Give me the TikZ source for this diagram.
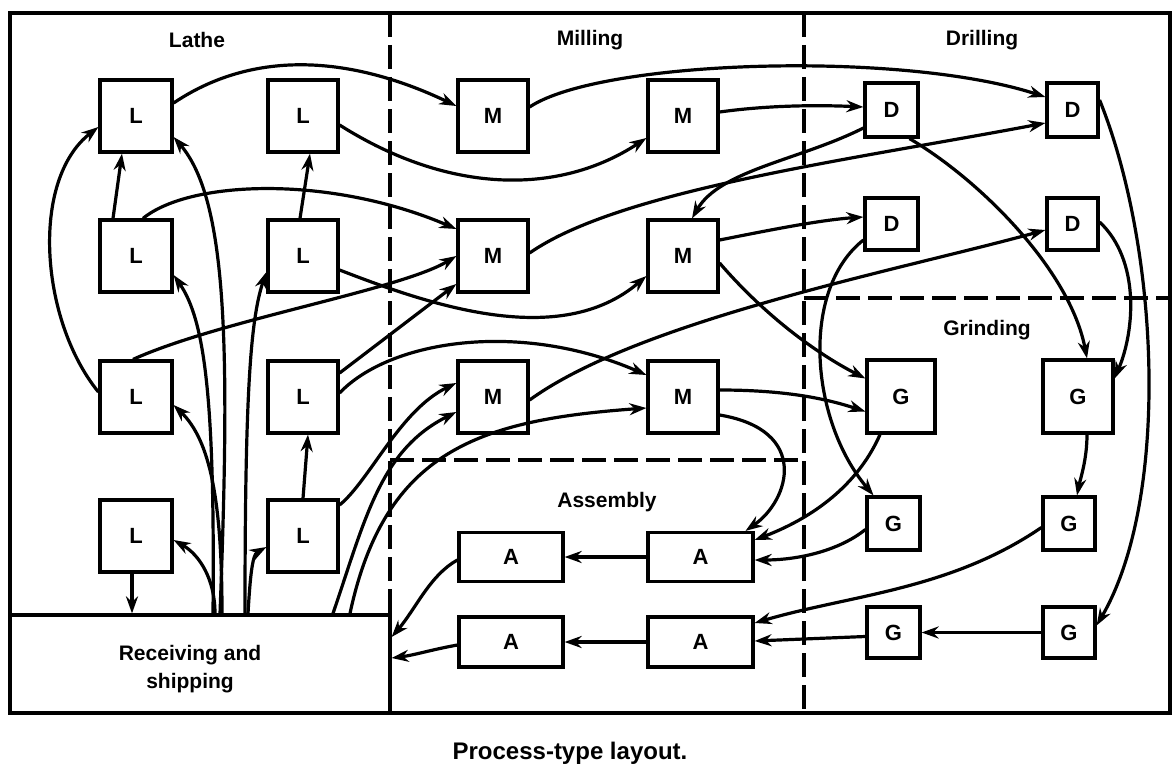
\documentclass[tikz,border=0pt]{standalone}
\usepackage{fontspec}
\setmainfont{Liberation Sans}
\usetikzlibrary{arrows.meta}
\begin{document}
\begin{tikzpicture}[x=1pt,y=-1pt,
  box/.style={draw,line width=3.2pt,inner sep=0pt,fill=white,font=\fontsize{22}{24}\selectfont\bfseries},
  conn/.style={line width=3.2pt,-{Stealth[length=17pt,width=12pt]}},
  title/.style={font=\fontsize{21}{24}\selectfont\bfseries},
  divider/.style={line width=3.2pt,dash pattern=on 24pt off 8pt}]
\fill[white] (0,0) rectangle (1173,776);
\useasboundingbox (0,0) rectangle (1173,776);
% frame and dividers
\draw[line width=3.2pt] (10,13) rectangle (1170,713);
\draw[divider] (390,13) -- (390,615);
\draw[divider] (804,13) -- (804,713);
\draw[divider] (390,460) -- (804,460);
\draw[divider] (804,298) -- (1170,298);
% titles
\node[title] (tLathe) at (197,40) {Lathe};
\node[title] (tMill) at (590,40) {Milling};
\node[title] (tDrill) at (982,40) {Drilling};
\node[title] (tGrind) at (987,330) {Grinding};
\node[title] (tAsm) at (607,502) {Assembly};
\node[font=\fontsize{24}{28}\selectfont\bfseries] (cap) at (570,753) {Process-type layout.};
% receiving
\node[draw,line width=3.2pt,inner sep=0pt,minimum width=380pt,minimum height=98pt] (R) at (200,664) {};
\node[align=center,font=\fontsize{21}{28}\selectfont\bfseries] (Rlabel) at (190,669) {Receiving and\\shipping};
% lathe
\foreach \n/\x/\y in {L1/136/116,L3/136/256,L5/136/397,L7/136/536}
  \node[box,minimum width=72pt,minimum height=72pt] (\n) at (\x,\y) {L};
\foreach \n/\x/\y in {L2/303/116,L4/303/256,L6/303/397,L8/303/536}
  \node[box,minimum width=70pt,minimum height=72pt] (\n) at (\x,\y) {L};
% milling
\foreach \n/\x/\y in {M1/493/116,M2/683/116,M3/493/256,M4/683/256,M5/493/397,M6/683/397}
  \node[box,minimum width=70pt,minimum height=72pt] (\n) at (\x,\y) {M};
% assembly
\node[box,minimum width=104pt,minimum height=49pt] (A1) at (511,557) {A};
\node[box,minimum width=105pt,minimum height=49pt] (A2) at (700.5,557) {A};
\node[box,minimum width=104pt,minimum height=50pt] (A3) at (511,642) {A};
\node[box,minimum width=105pt,minimum height=50pt] (A4) at (700.5,642) {A};
% drilling
\node[box,minimum width=53pt,minimum height=54pt] (D1) at (891.5,110) {D};
\node[box,minimum width=51pt,minimum height=54pt] (D2) at (1072.5,110) {D};
\node[box,minimum width=53pt,minimum height=52pt] (D3) at (891.5,224) {D};
\node[box,minimum width=51pt,minimum height=52pt] (D4) at (1072.5,224) {D};
% grinding
\node[box,minimum width=68pt,minimum height=73pt] (G1) at (901,396.5) {G};
\node[box,minimum width=70pt,minimum height=73pt] (G2) at (1078,396.5) {G};
\node[box,minimum width=53pt,minimum height=53pt] (G3) at (893.5,523.5) {G};
\node[box,minimum width=52pt,minimum height=53pt] (G4) at (1069,523.5) {G};
\node[box,minimum width=53pt,minimum height=51pt] (G5) at (893.5,632.5) {G};
\node[box,minimum width=52pt,minimum height=51pt] (G6) at (1069,632.5) {G};
% lathe connectors
\draw[conn] ([yshift=13pt]L1.east) .. controls (260,45) and (360,60) .. ([yshift=10pt]M1.west);
\draw[conn] ([yshift=-9pt]L2.east) .. controls (450,195) and (560,195) .. ([yshift=-22pt]M2.west);
\draw[conn] ([xshift=-23pt]L3.north) -- ([xshift=-14pt]L1.south);
\draw[conn] ([xshift=-3pt]L4.north) -- ([xshift=7pt]L2.south);
\draw[conn] ([xshift=7pt]L3.north) .. controls (190,180) and (330,175) .. ([yshift=27pt]M3.west);
\draw[conn] ([yshift=-14pt]L4.east) .. controls (430,305) and (560,350) .. ([yshift=-20pt]M4.west);
\draw[conn] ([xshift=-3pt]L5.north) .. controls (220,320) and (400,290) .. (M3.west);
\draw[conn] ([yshift=24pt]L6.east) -- ([yshift=-28pt]M3.west);
\draw[conn] ([yshift=4pt]L6.east) .. controls (390,340) and (520,320) .. ([yshift=22pt]M6.west);
\draw[conn] ([yshift=31pt]L8.east) .. controls (370,480) and (400,410) .. ([yshift=14pt]M5.west);
\draw[conn] ([xshift=133pt]R.north) .. controls (365,520) and (380,450) .. ([yshift=-15pt]M5.west);
\draw[conn] ([xshift=150pt]R.north) .. controls (385,450) and (480,420) .. ([yshift=-11pt]M6.west);
\draw[conn] (L8.north) -- ([xshift=5pt]L6.south);
\draw[conn] ([xshift=-4pt]L7.south) -- ([xshift=-68pt]R.north);
\draw[conn] ([yshift=5pt]L5.west) .. controls (40,320) and (30,180) .. ([yshift=-11pt]L1.west);
% fan from receiving
\draw[conn] ([xshift=20pt]R.north) .. controls (230,350) and (228,200) .. ([yshift=-21pt]L1.east);
\draw[conn] ([xshift=13pt]R.north) .. controls (215,400) and (205,320) .. ([yshift=-19pt]L3.east);
\draw[conn] ([xshift=45pt]R.north) .. controls (245,400) and (250,320) .. ([yshift=-16pt]L4.west);
\draw[conn] ([xshift=22pt]R.north) .. controls (222,500) and (210,440) .. ([yshift=-8pt]L5.east);
\draw[conn] ([xshift=15pt]R.north) .. controls (215,580) and (200,555) .. ([yshift=-4pt]L7.east);
\draw[conn] ([xshift=48pt]R.north) .. controls (250,580) and (252,555) .. ([yshift=-11pt]L8.west);
% milling connectors
\draw[conn] ([yshift=9pt]M1.east) .. controls (600,60) and (900,50) .. ([yshift=13pt]D2.west);
\draw[conn] ([yshift=4pt]M2.east) .. controls (770,105) and (820,105) .. ([yshift=3pt]D1.west);
\draw[conn] ([yshift=-18pt]D1.west) .. controls (800,160) and (720,170) .. ([xshift=9pt]M4.north);
\draw[conn] ([yshift=3pt]M3.east) .. controls (620,190) and (850,160) .. ([yshift=-13pt]D2.west);
\draw[conn] ([yshift=16pt]M4.east) .. controls (770,230) and (820,220) .. ([yshift=7pt]D3.west);
\draw[conn] ([yshift=-7pt]M4.east) .. controls (760,310) and (810,350) .. ([yshift=18pt]G1.west);
\draw[conn] ([yshift=-3pt]M5.east) .. controls (640,320) and (900,270) .. ([yshift=-6pt]D4.west);
\draw[conn] ([yshift=7pt]M6.east) .. controls (790,390) and (830,400) .. ([yshift=-15pt]G1.west);
\draw[conn] ([yshift=-18pt]M6.east) .. controls (810,430) and (790,500) .. ([xshift=45pt]A2.north);
% drilling and grinding
\draw[conn] ([xshift=18pt]D1.south) .. controls (980,180) and (1070,270) .. ([xshift=9pt]G2.north);
\draw[conn] ([yshift=10pt]D2.east) .. controls (1160,250) and (1170,500) .. ([yshift=7pt]G6.east);
\draw[conn] ([yshift=2pt]D4.east) .. controls (1140,260) and (1135,330) .. ([yshift=18pt]G2.east);
\draw[conn] ([yshift=-16pt]D3.west) .. controls (800,290) and (810,420) .. ([xshift=-20pt]G3.north);
\draw[conn] ([xshift=9pt]G2.south) .. controls (1087,460) and (1080,480) .. ([xshift=8pt]G4.north);
\draw[conn] (G6.west) -- (G5.east);
\draw[conn] ([xshift=-21pt]G1.south) .. controls (860,480) and (820,515) .. ([yshift=17pt]A2.east);
\draw[conn] ([yshift=-6pt]G3.west) .. controls (840,550) and (800,560) .. ([yshift=-3pt]A2.east);
\draw[conn] ([yshift=-4pt]G4.west) .. controls (950,590) and (850,595) .. ([yshift=19pt]A4.east);
\draw[conn] ([yshift=-4pt]G5.west) -- ([yshift=1pt]A4.east);
% assembly
\draw[conn] (A2.west) -- (A1.east);
\draw[conn] (A4.west) -- (A3.east);
\draw[conn] ([yshift=-3pt]A1.west) .. controls (430,575) and (415,610) .. ([yshift=27pt]R.east);
\draw[conn] ([yshift=-3pt]A3.west) .. controls (430,650) and (415,655) .. ([yshift=6pt]R.east);
\end{tikzpicture}
\end{document}
